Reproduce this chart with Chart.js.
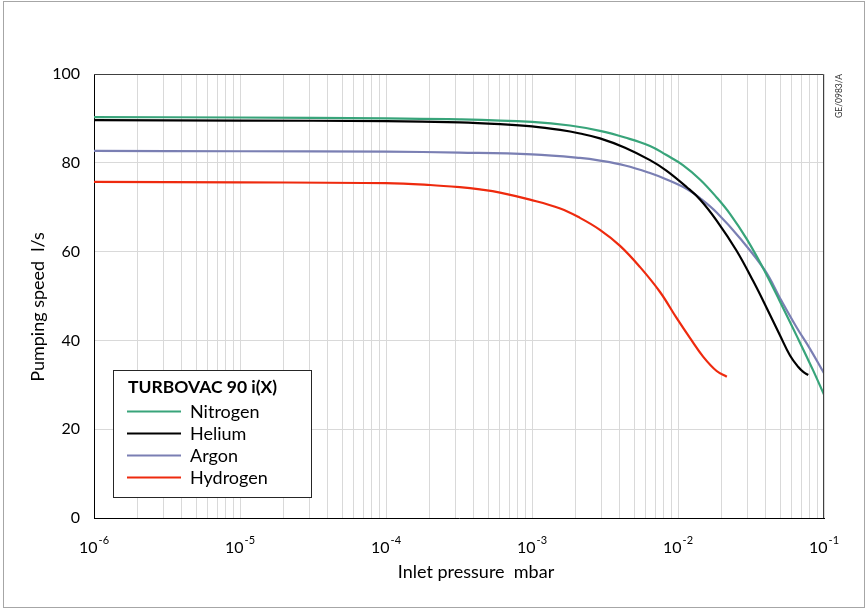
<!DOCTYPE html>
<html><head><meta charset="utf-8">
<script src="https://cdn.jsdelivr.net/npm/chart.js@4"></script>
<style>
html,body{margin:0;padding:0;background:#fff;}
#frame{position:absolute;left:0;top:0;width:867px;height:610px;}
#border{position:absolute;left:3px;top:1px;width:862px;height:607px;border:1px solid #a6a6a6;box-sizing:border-box;pointer-events:none}
</style></head>
<body>
<div id="frame"><canvas id="c" width="867" height="610"></canvas></div>
<div id="border"></div>
<script>
// ---- data (pressure in mbar, pumping speed in l/s) ----
const seriesNames = ['Nitrogen', 'Helium', 'Argon', 'Hydrogen'];
const legendTitle = 'TURBOVAC 90 i(X)';
const xTitle = 'Inlet pressure  mbar';
const yTitle = 'Pumping speed  l/s';
const drawingCode = 'GE/0983/A';

const nitrogenP = [1e-6, 1e-5, 1e-4, 3.2e-4, 1e-3, 1.82e-3, 2.92e-3, 4.34e-3, 6.43e-3, 8.28e-3, 1.08e-2, 1.42e-2, 1.84e-2, 2.27e-2, 2.96e-2, 3.95e-2, 5.0e-2, 6.64e-2, 8.41e-2, 1e-1];
const nitrogenS = [90.3, 90.2, 90.0, 89.8, 89.2, 88.4, 87.2, 85.7, 83.8, 81.8, 79.5, 76.2, 72.2, 68.5, 62.8, 55.4, 48.7, 40.4, 33.3, 27.8];

const heliumP = [1e-6, 1e-5, 1e-4, 3.2e-4, 6.04e-4, 1e-3, 1.56e-3, 2.13e-3, 2.92e-3, 4.34e-3, 6.43e-3, 8.28e-3, 1.15e-2, 1.42e-2, 1.84e-2, 2.52e-2, 3.28e-2, 4.05e-2, 5.0e-2, 5.85e-2, 6.67e-2, 7.21e-2, 7.80e-2];
const heliumS = [89.6, 89.5, 89.4, 89.1, 88.7, 88.2, 87.4, 86.6, 85.5, 83.4, 80.6, 78.3, 74.5, 71.7, 67.0, 60.2, 53.3, 47.3, 41.1, 36.6, 34.0, 32.9, 32.2];

const argonP = [1e-6, 1e-5, 1e-4, 3.2e-4, 1e-3, 2.13e-3, 2.92e-3, 4.34e-3, 6.43e-3, 8.28e-3, 1.15e-2, 1.42e-2, 1.84e-2, 2.66e-2, 3.95e-2, 5.0e-2, 6.50e-2, 8.02e-2, 1e-1];
const argonS = [82.7, 82.6, 82.5, 82.3, 81.9, 81.1, 80.5, 79.4, 77.7, 76.3, 74.1, 72.0, 68.8, 63.0, 55.7, 49.5, 42.9, 38.1, 32.6];

const hydrogenP = [1e-6, 1e-5, 1e-4, 2.0e-4, 3.2e-4, 4.4e-4, 6.04e-4, 9.69e-4, 1.56e-3, 2.13e-3, 2.92e-3, 4.01e-3, 5.50e-3, 7.53e-3, 9.80e-3, 1.21e-2, 1.49e-2, 1.84e-2, 2.16e-2];
const hydrogenS = [75.7, 75.6, 75.4, 75.0, 74.5, 74.0, 73.3, 71.7, 69.7, 67.6, 64.9, 61.3, 56.5, 50.9, 45.0, 40.5, 36.3, 33.1, 31.8];

const seriesColors = ['#38a47a', '#000000', '#7a7fb3', '#ee2a0e'];

// x-axis: decades and labels (10 with exponent)
const decadeExponents = [-6, -5, -4, -3, -2, -1];
const decadeBase = '10';
const decadeExponentLabels = ['-6', '-5', '-4', '-3', '-2', '-1'];
const minorMultipliers = [1, 2, 3, 4, 5, 6, 7, 8, 9];
const yTickValues = [0, 20, 40, 60, 80, 100];

// ---- build ----
const xTicks = [];
decadeExponents.forEach((e, i) => {
  const mults = (i === decadeExponents.length - 1) ? [1] : minorMultipliers;
  mults.forEach(m => xTicks.push(m * Math.pow(10, e)));
});

function pts(P, S) { return P.map((p, i) => ({x: p, y: S[i]})); }
const allP = [nitrogenP, heliumP, argonP, hydrogenP];
const allS = [nitrogenS, heliumS, argonS, hydrogenS];

const datasets = seriesNames.map((n, i) => ({
  label: n,
  data: pts(allP[i], allS[i]),
  borderColor: seriesColors[i],
  backgroundColor: seriesColors[i],
  borderWidth: 2.2,
  pointRadius: 0,
  fill: false,
  tension: 0.4
}));

const FONT = 'Lato';

const decorPlugin = {
  id: 'decor',
  afterDatasetsDraw(chart) {
    const ctx = chart.ctx;
    const a = chart.chartArea;
    ctx.save();
    ctx.strokeStyle = '#404040';
    ctx.lineWidth = 1;
    ctx.beginPath();
    ctx.moveTo(a.left, a.top + 0.5);
    ctx.lineTo(a.right - 0.5, a.top + 0.5);
    ctx.lineTo(a.right - 0.5, a.bottom);
    ctx.stroke();
    ctx.restore();
  },
  afterDraw(chart) {
    const ctx = chart.ctx;
    const xs = chart.scales.x;
    ctx.save();
    // x tick labels: 10 with raised exponent
    ctx.fillStyle = '#000';
    ctx.textBaseline = 'alphabetic';
    ctx.textAlign = 'left';
    decadeExponents.forEach((e, i) => {
      const px = xs.getPixelForValue(Math.pow(10, e));
      ctx.font = '16px ' + FONT;
      const wb = ctx.measureText(decadeBase).width;
      ctx.font = '11px ' + FONT;
      const we = ctx.measureText(decadeExponentLabels[i]).width;
      const start = px - (wb + we + 1) / 2;
      ctx.font = '16px ' + FONT;
      ctx.fillText(decadeBase, start, 553);
      ctx.font = '11px ' + FONT;
      ctx.fillText(decadeExponentLabels[i], start + wb + 1, 544);
    });
    // axis titles
    ctx.font = '18px ' + FONT;
    ctx.textAlign = 'center';
    ctx.textBaseline = 'alphabetic';
    ctx.fillText(xTitle, 476, 578);
    ctx.save();
    ctx.translate(44, 307);
    ctx.rotate(-Math.PI / 2);
    ctx.fillText(yTitle, 0, 0);
    ctx.restore();

    // legend box
    ctx.textAlign = 'left';
    ctx.fillStyle = '#fff';
    ctx.fillRect(113, 370, 198, 128);
    ctx.strokeStyle = '#262626';
    ctx.lineWidth = 1;
    ctx.strokeRect(113.5, 370.5, 198, 127);
    ctx.fillStyle = '#000';
    ctx.font = 'bold 17.5px ' + FONT;
    ctx.fillText(legendTitle, 128, 393);
    chart.data.datasets.forEach((ds, i) => {
      const y = 411.5 + i * 22;
      ctx.strokeStyle = ds.borderColor;
      ctx.lineWidth = 2;
      ctx.beginPath();
      ctx.moveTo(127, y);
      ctx.lineTo(181, y);
      ctx.stroke();
      ctx.font = '18px ' + FONT;
      ctx.fillStyle = '#000';
      ctx.fillText(ds.label, 190, y + 6);
    });
    // drawing reference code
    ctx.translate(839, 96);
    ctx.rotate(-Math.PI / 2);
    ctx.font = '8.5px ' + FONT;
    ctx.textAlign = 'center';
    ctx.textBaseline = 'middle';
    ctx.fillStyle = '#333';
    ctx.fillText(drawingCode, 0, 0);
    ctx.restore();
  }
};

new Chart(document.getElementById('c'), {
  type: 'line',
  data: { datasets },
  plugins: [decorPlugin],
  options: {
    responsive: false,
    animation: false,
    devicePixelRatio: 1,
    layout: { padding: { left: 0, top: 74, right: 43, bottom: 0 } },
    plugins: { legend: { display: false }, tooltip: { enabled: false } },
    scales: {
      x: {
        type: 'logarithmic',
        min: 1e-6,
        max: 1e-1,
        afterBuildTicks(s) { s.ticks = xTicks.map(v => ({ value: v })); },
        afterFit(s) { s.height = 92; },
        ticks: { display: false, autoSkip: false, maxRotation: 0 },
        grid: { color: '#d9d9d9', drawTicks: false, lineWidth: 1 },
        border: { color: '#000', width: 1 },
        title: { display: false }
      },
      y: {
        min: 0, max: 100,
        afterBuildTicks(s) { s.ticks = yTickValues.map(v => ({ value: v })); },
        afterFit(s) { s.width = 94; },
        ticks: { padding: 14, color: '#000', font: { family: FONT, size: 16 } },
        grid: { color: '#d9d9d9', drawTicks: false, lineWidth: 1 },
        border: { color: '#000', width: 1 },
        title: { display: false }
      }
    }
  }
});
</script>
</body></html>
